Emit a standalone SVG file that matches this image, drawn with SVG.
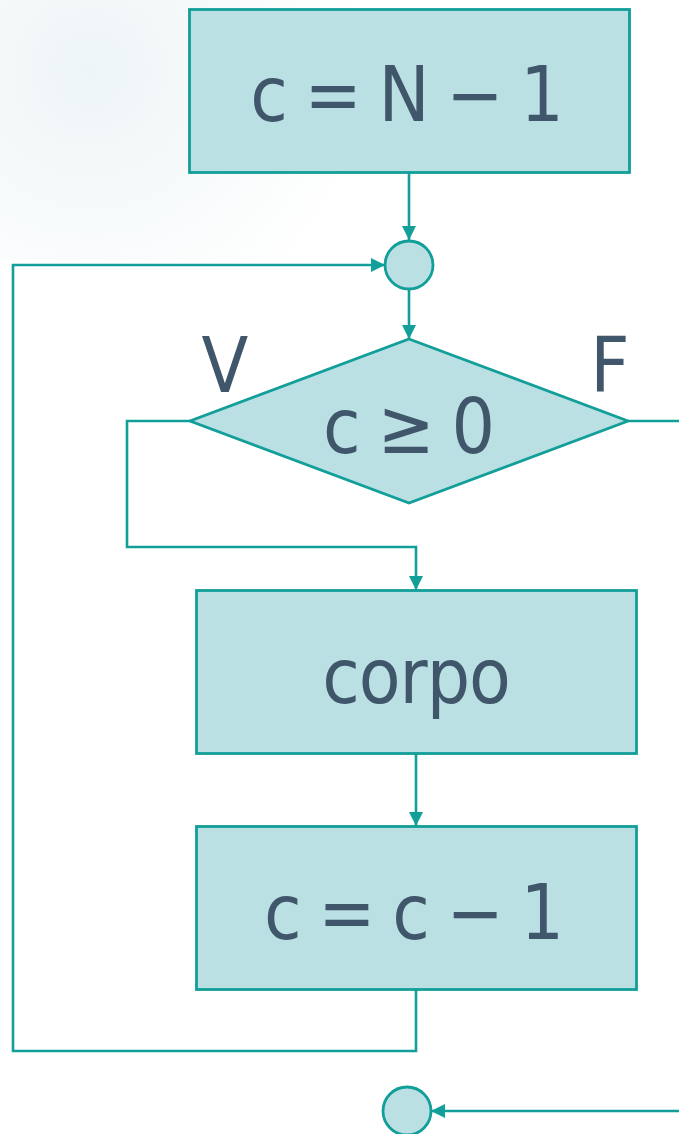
<svg xmlns="http://www.w3.org/2000/svg" width="679" height="1134" viewBox="0 0 679 1134">
  <defs>
    <style>
      .box { fill: #BAE0E3; stroke: #129E99; stroke-width: 2.8; }
      .conn { fill: none; stroke: #129E99; stroke-width: 2.6; }
      .lbl { font-family: "DejaVu Sans Condensed", "DejaVu Sans", "Liberation Sans", sans-serif; font-stretch: condensed; font-size: 76px; fill: #40566A; text-anchor: middle; }
      .eq { word-spacing: -5px; }
    </style>
    <marker id="arr" markerUnits="userSpaceOnUse" markerWidth="15" markerHeight="14" refX="14" refY="7" orient="auto">
      <path d="M0,0 L14,7 L0,14 z" fill="#129E99"/>
    </marker>
    <radialGradient id="bg" cx="90" cy="70" r="280" gradientUnits="userSpaceOnUse">
      <stop offset="0" stop-color="#EEF5F7"/>
      <stop offset="1" stop-color="#FFFFFF"/>
    </radialGradient>
  </defs>
  <rect x="0" y="0" width="679" height="1134" fill="#FFFFFF"/>
  <rect x="0" y="0" width="679" height="260" fill="url(#bg)"/>

  <g id="connectors">
    <path class="conn" d="M409,173 L409,240" marker-end="url(#arr)"/>
    <path class="conn" d="M409,289 L409,339" marker-end="url(#arr)"/>
    <path class="conn" d="M190,421 L127,421 L127,547 L416,547 L416,590" marker-end="url(#arr)"/>
    <path class="conn" d="M628,421 L679,421"/>
    <path class="conn" d="M416,754 L416,826" marker-end="url(#arr)"/>
    <path class="conn" d="M416,990 L416,1051 L13,1051 L13,265 L385,265" marker-end="url(#arr)"/>
    <path class="conn" d="M679,1111 L431,1111" marker-end="url(#arr)"/>
  </g>

  <g id="init">
    <rect class="box" x="189.5" y="9.5" width="440" height="163"/>
    <text class="lbl eq" x="407" y="121">c = N − 1</text>
  </g>

  <g id="join">
    <circle class="box" cx="409" cy="265" r="24"/>
  </g>

  <g id="cond">
    <polygon class="box" points="409,339 628,421 409,503 190,421"/>
    <text class="lbl eq" x="409" y="453">c ≥ 0</text>
  </g>

  <g id="label-v">
    <text class="lbl" x="225" y="392">V</text>
  </g>
  <g id="label-f">
    <text class="lbl" x="610" y="392">F</text>
  </g>

  <g id="body">
    <rect class="box" x="196.5" y="590.5" width="440" height="163"/>
    <text class="lbl" x="416" y="703" letter-spacing="-1">corpo</text>
  </g>

  <g id="decrement">
    <rect class="box" x="196.5" y="826.5" width="440" height="163"/>
    <text class="lbl eq" x="414" y="939">c = c − 1</text>
  </g>

  <g id="end">
    <circle class="box" cx="407" cy="1111" r="24"/>
  </g>
</svg>
